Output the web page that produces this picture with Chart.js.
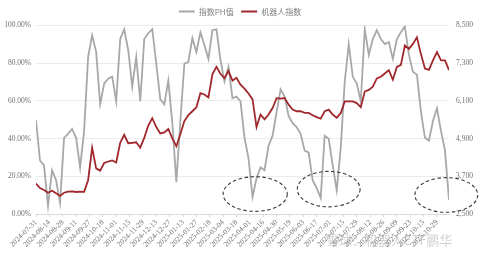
<!DOCTYPE html>
<html><head><meta charset="utf-8">
<script src="https://cdn.jsdelivr.net/npm/chart.js@4.4.1/dist/chart.umd.min.js"></script>
<style>html,body{margin:0;padding:0;background:#fff;}#wrap{width:480px;height:254px;position:relative;}</style>
</head><body><div id="wrap"><canvas id="c" width="480" height="254"></canvas></div>
<script>
const seriesNames = ['指数PH值', '机器人指数'];
const tickLabels = ['2024-07-31','2024-08-14','2024-08-28','2024-09-11','2024-09-27','2024-10-18','2024-11-01','2024-11-15','2024-11-29','2024-12-13','2024-12-27','2025-01-13','2025-01-27','2025-02-18','2025-03-04','2025-03-18','2025-04-01','2025-04-16','2025-04-30','2025-05-19','2025-06-03','2025-06-17','2025-07-01','2025-07-15','2025-07-29','2025-08-12','2025-08-26','2025-09-09','2025-09-23','2025-10-15','2025-10-29'];
const daysPerTick = 10;
const dayStep = 3; // one reading every 3 trading days
const lastDay = 309;
// 指数PH值 (%), left axis
const phValues = [49.8,28.4,25.8,4.4,23.2,18.0,5.9,40.4,42.5,45.1,40.4,24.7,44.1,83.3,94.8,86.0,58.2,69.2,71.8,72.9,
  59.8,92.8,98.0,87.0,67.6,83.3,59.8,92.8,95.9,98.0,79.7,60.8,58.2,70.8,48.2,16.9,49.3,79.7,80.7,93.3,
  86.0,96.4,89.6,82.3,97.5,98.0,81.8,70.3,78.1,61.4,62.3,59.8,40.4,29.5,9.0,19.0,24.7,23.2,36.3,41.5,
  54.0,66.1,62.3,52.0,48.2,46.1,42.5,33.6,32.6,17.9,13.8,8.5,41.5,39.9,25.8,12.7,35.2,70.3,90.1,72.9,
  69.2,59.8,98.0,84.4,92.8,97.5,92.8,90.1,91.2,82.3,92.8,96.4,99.5,84.4,75.5,73.9,54.5,40.4,38.9,49.3,
  56.1,44.1,33.6,7.5];
// 机器人指数, right axis
const robotValues = [3470,3325,3262,3177,3240,3159,3074,3177,3209,3220,3200,3215,3205,3576,4611,3952,3880,4124,4171,4203,
  4140,4767,5018,4752,4767,4783,4611,4924,5316,5551,5269,5065,5097,5206,4908,4658,5040,5457,5645,5771,
  5896,6345,6304,6210,6947,7182,6963,6821,7057,6743,6837,6618,6492,6335,6147,5269,5667,5511,5667,5874,
  6188,6170,6190,5981,5824,5771,5770,5717,5717,5645,5583,5536,5771,5824,5667,5561,5717,6084,6084,6084,
  6031,5896,6398,6451,6555,6815,6868,6972,7079,6774,7182,7245,7863,7756,7913,8123,7590,7129,7088,7392,
  7652,7392,7390,7079];
const leftTicks = [0,20,40,60,80,100];
const rightTicks = [2500,3700,4900,6100,7300,8500];

// dashed ellipse annotations (trading-day index, % on left axis)
const ellipses = [
  {day:164, pct:10.6, rDays:24, rPct:9.2},
  {day:219, pct:13.2, rDays:23.5, rPct:9.4},
  {day:307, pct:10.1, rDays:23.5, rPct:9.2}
];

const toPts = arr => arr.map((v,i)=>({x:i*dayStep, y:v}));
const tickFont = {family:'"Liberation Serif","Times New Roman",serif', size:7.5};
const tickColor = '#707070';

const annot = {
  id:'annot',
  afterDraw(chart){
    const ctx = chart.ctx, xs = chart.scales.x, ys = chart.scales.y;
    ctx.save();
    ctx.strokeStyle = '#3a3a3a';
    ctx.lineWidth = 1.1;
    ctx.setLineDash([3.5,2.5]);
    ellipses.forEach(e=>{
      const cx = xs.getPixelForValue(e.day), cy = ys.getPixelForValue(e.pct);
      const rx = Math.abs(xs.getPixelForValue(e.day+e.rDays)-cx);
      const ry = Math.abs(ys.getPixelForValue(e.pct+e.rPct)-cy);
      ctx.beginPath();
      ctx.ellipse(cx, cy, rx, ry, 0, 0, Math.PI*2);
      ctx.stroke();
    });
    ctx.setLineDash([]);
    ctx.fillStyle = 'rgba(150,150,150,0.45)';
    ctx.font = '13px "Noto Sans CJK SC", sans-serif';
    ctx.textBaseline = 'middle';
    ctx.fillText('雪球：机器人ETF鹏华', 326, 240);
    ctx.restore();
  }
};

new Chart(document.getElementById('c'), {
  type:'line',
  data:{datasets:[
    {label:seriesNames[0], data:toPts(phValues), borderColor:'#a8a8a8', backgroundColor:'#a8a8a8', borderWidth:1.8, pointRadius:0, yAxisID:'y', order:2},
    {label:seriesNames[1], data:toPts(robotValues), borderColor:'#a0282c', backgroundColor:'#a0282c', borderWidth:1.8, pointRadius:0, yAxisID:'y1', order:1}
  ]},
  options:{
    responsive:false, animation:false, devicePixelRatio:1,
    layout:{padding:0},
    plugins:{
      tooltip:{enabled:false},
      legend:{position:'top', labels:{usePointStyle:true, pointStyle:'line', pointStyleWidth:16, padding:7.5,
        color:'#808080', font:{family:'"Noto Sans CJK SC",sans-serif', size:8},
        sort:(a,b)=>a.datasetIndex-b.datasetIndex}}
    },
    scales:{
      x:{type:'linear', min:0, max:lastDay,
        afterBuildTicks:s=>{ s.ticks = tickLabels.map((_,i)=>({value:i*daysPerTick})); },
        afterFit:s=>{ s.height = 40; },
        ticks:{autoSkip:false, minRotation:45, maxRotation:45, padding:1, color:tickColor, font:tickFont,
          callback:v=>tickLabels[Math.round(v/daysPerTick)] ?? ''},
        grid:{drawOnChartArea:false, drawTicks:true, tickLength:3, color:'#d9d9d9'},
        border:{color:'#d9d9d9'}
      },
      y:{position:'left', min:0, max:100,
        afterBuildTicks:s=>{ s.ticks = leftTicks.map(v=>({value:v})); },
        afterFit:s=>{ s.width = 36; },
        ticks:{padding:5, color:tickColor, font:tickFont, callback:v=>v.toFixed(2)+'%'},
        grid:{color:'#ebebeb', drawTicks:false, lineWidth:1},
        border:{display:false}
      },
      y1:{position:'right', min:2500, max:8500,
        afterBuildTicks:s=>{ s.ticks = rightTicks.map(v=>({value:v})); },
        afterFit:s=>{ s.width = 31; },
        ticks:{padding:7, color:tickColor, font:tickFont, callback:v=>v.toLocaleString('en-US')},
        grid:{drawOnChartArea:false, drawTicks:false},
        border:{display:false}
      }
    }
  },
  plugins:[annot]
});
</script></body></html>
